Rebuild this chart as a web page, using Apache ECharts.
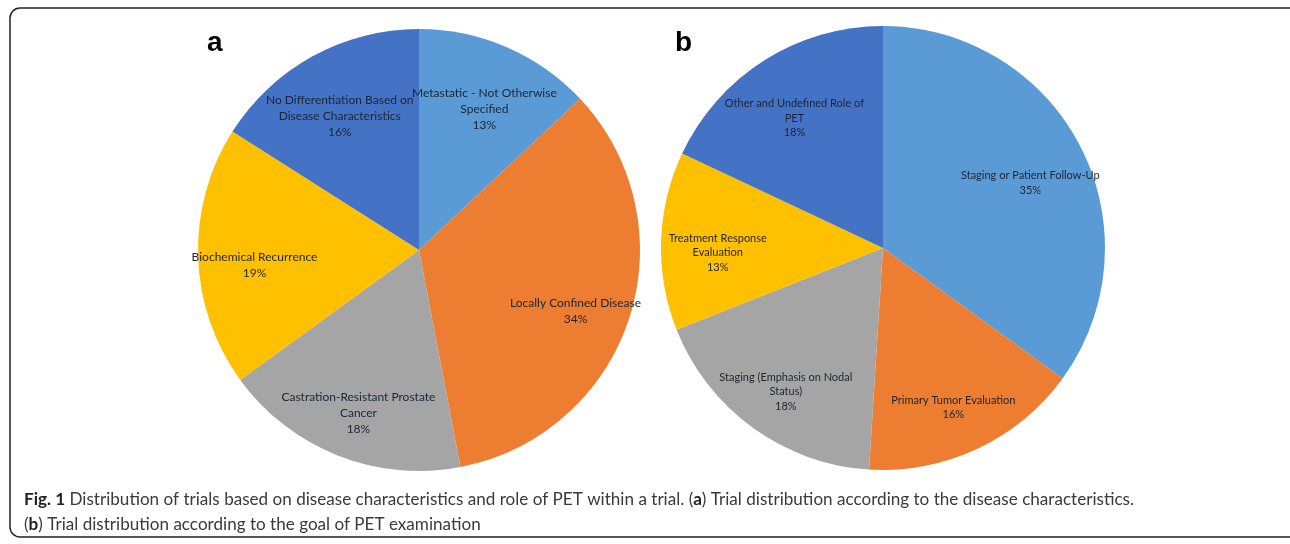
<!DOCTYPE html>
<html>
<head>
<meta charset="utf-8">
<script src="https://cdn.jsdelivr.net/npm/echarts@6/dist/echarts.min.js"></script>
<style>
  html, body { margin: 0; padding: 0; background: #fff; }
  #chart { width: 1290px; height: 544px; }
</style>
</head>
<body>
<div id="chart"></div>
<script>
// panel a: disease characteristics
const catsA = [
    'Metastatic - Not Otherwise\nSpecified',
    'Locally Confined Disease',
    'Castration-Resistant Prostate\nCancer',
    'Biochemical Recurrence',
    'No Differentiation Based on\nDisease Characteristics'
];
const valsA = [13, 34, 18, 19, 16];

// panel b: role of PET
const catsB = [
    'Staging or Patient Follow-Up',
    'Primary Tumor Evaluation',
    'Staging (Emphasis on Nodal\nStatus)',
    'Treatment Response\nEvaluation',
    'Other and Undefined Role of\nPET'
];
const valsB = [35, 16, 18, 13, 18];

const sliceColors = ['#5b9bd5', '#ed7d31', '#a5a5a5', '#ffc000', '#4472c4'];

const captionLine1 = ['Fig. 1', ' Distribution of trials based on disease characteristics and role of PET within a trial. (', 'a', ') Trial distribution according to the disease characteristics.'];
const captionLine2 = ['(', 'b', ') Trial distribution according to the goal of PET examination'];

const CAPTION_FONT = 17;
const CAPTION_WIDTH = 1110;

// measure caption so it can be squeezed to the width of the original condensed font
function measureCaption(parts) {
    const ctx = document.createElement('canvas').getContext('2d');
    let w = 0;
    parts.forEach((p, i) => {
        const bold = (parts === captionLine1) ? (i === 0 || i === 2) : (i === 1);
        ctx.font = (bold ? 'bold ' : '') + CAPTION_FONT + 'px Lato';
        w += ctx.measureText(p).width;
    });
    return w;
}

function richCaption(parts, boldIdx) {
    return parts.map((p, i) => boldIdx.includes(i) ? '{b|' + p + '}' : p).join('');
}

// push inside labels further out from the centre (Excel style)
function spreadLabels(cx, cy, k) {
    return function (params) {
        const r = params.labelRect;
        const lx = r.x + r.width / 2;
        const ly = r.y + r.height / 2;
        return { dx: (lx - cx) * (k - 1), dy: (ly - cy) * (k - 1) + 10 };
    };
}

function pieSeries(cats, vals, center, radius, fontSize, lineHeight) {
    return {
        type: 'pie',
        center: center,
        radius: radius,
        startAngle: 90,
        clockwise: true,
        silent: true,
        animation: false,
        itemStyle: { borderWidth: 0 },
        label: {
            show: true,
            position: 'inside',
            formatter: '{b}\n{c}%',
            color: '#1c2533',
            fontFamily: 'Lato',
            fontSize: fontSize,
            lineHeight: lineHeight,
            align: 'center'
        },
        labelLayout: spreadLabels(center[0], center[1], 1.45),
        data: cats.map((c, i) => ({ name: c, value: vals[i], itemStyle: { color: sliceColors[i] } }))
    };
}

const chart = echarts.init(document.getElementById('chart'));

const scale1 = CAPTION_WIDTH / measureCaption(captionLine1);

const option = {
    backgroundColor: '#fff',
    title: [
        { text: 'a', left: 202, top: 24, textStyle: { fontFamily: 'Liberation Sans', fontWeight: 'bold', fontSize: 28, color: '#000' } },
        { text: 'b', left: 670, top: 24, textStyle: { fontFamily: 'Liberation Sans', fontWeight: 'bold', fontSize: 28, color: '#000' } }
    ],
    series: [
        pieSeries(catsA, valsA, [419, 250], 221, 12, 16),
        pieSeries(catsB, valsB, [883, 248], 222, 11, 14.5)
    ],
    graphic: [
        {
            type: 'rect',
            shape: { x: 10, y: 8, width: 1300, height: 529, r: 10 },
            style: { fill: 'none', stroke: '#222', lineWidth: 1.5 },
            silent: true
        },
        {
            type: 'text',
            x: 24, y: 500,
            scaleX: scale1,
            style: {
                text: richCaption(captionLine1, [0, 2]),
                fontFamily: 'Lato', fontSize: CAPTION_FONT, fill: '#3a3a3a',
                verticalAlign: 'middle',
                rich: { b: { fontFamily: 'Lato', fontWeight: 'bold', fontSize: CAPTION_FONT, fill: '#222' } }
            }
        },
        {
            type: 'text',
            x: 24, y: 525,
            scaleX: scale1,
            style: {
                text: richCaption(captionLine2, [1]),
                fontFamily: 'Lato', fontSize: CAPTION_FONT, fill: '#3a3a3a',
                verticalAlign: 'middle',
                rich: { b: { fontFamily: 'Lato', fontWeight: 'bold', fontSize: CAPTION_FONT, fill: '#222' } }
            }
        }
    ]
};

chart.setOption(option);
</script>
</body>
</html>
